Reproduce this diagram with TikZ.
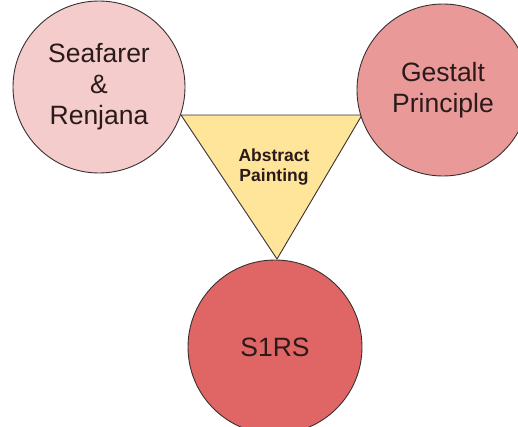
\documentclass[tikz,border=0pt]{standalone}
\usepackage{fontspec}
\setmainfont{Liberation Sans}
\definecolor{pinkA}{HTML}{F4CCCC}
\definecolor{pinkB}{HTML}{EA9999}
\definecolor{pinkC}{HTML}{E06666}
\definecolor{yel}{HTML}{FFE599}
\definecolor{edge}{HTML}{3A3030}
\definecolor{txt}{HTML}{2A1A1A}
\begin{document}
\begin{tikzpicture}[x=1pt,y=-1pt,
  bubble/.style={circle,draw=edge,line width=0.9pt,minimum size=172pt,inner sep=0pt,align=center,text=txt,font=\fontsize{26.5}{31}\selectfont},
  tri/.style={draw=edge,fill=yel,line width=0.9pt,line join=round},
  tlabel/.style={align=center,text=txt,font=\fontsize{17.5}{20}\selectfont\bfseries}]
\useasboundingbox (0,0) rectangle (518,426);
\clip (0,0) rectangle (518,426);
\coordinate (tl) at (181,115);
\coordinate (tr) at (362,115);
\coordinate (tb) at (277,259);
\draw[tri] (tl) -- (tr) -- (tb) -- cycle;
\node[tlabel] (abs) at (274,167) {Abstract\\Painting};
\node[bubble,fill=pinkA] (sea) at (99,87) {Seafarer\\\&\\Renjana};
\node[bubble,fill=pinkB] (ges) at (443,90) {Gestalt\\Principle};
\node[bubble,fill=pinkC,minimum size=174pt] (s1rs) at (275,347) {S1RS};
\end{tikzpicture}
\end{document}
